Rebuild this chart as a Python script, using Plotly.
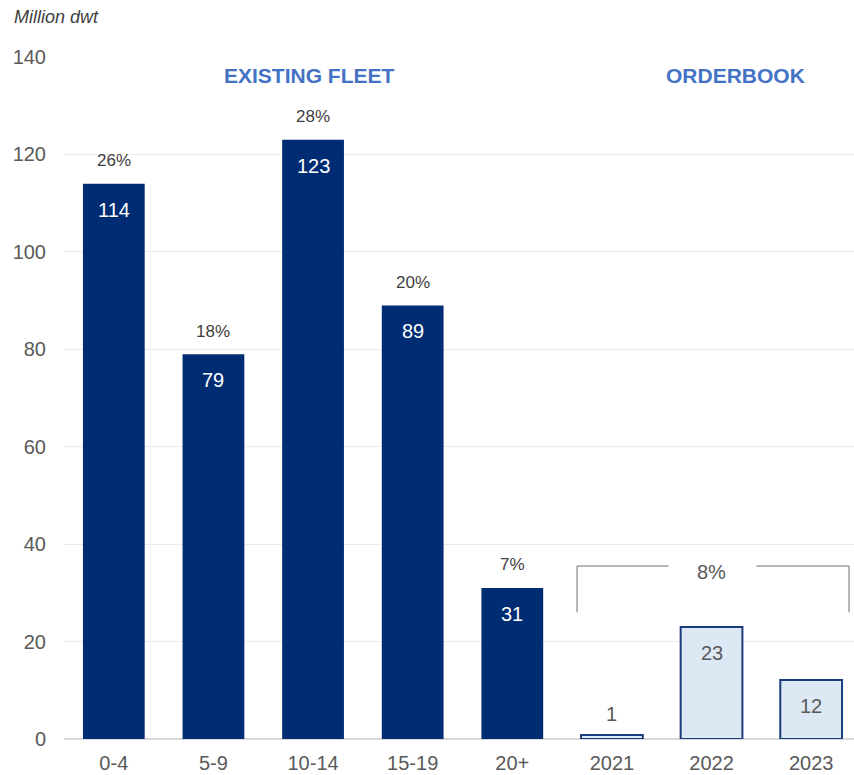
import plotly.graph_objects as go

categories = ["0-4", "5-9", "10-14", "15-19", "20+", "2021", "2022", "2023"]
fleet_values = [114, 79, 123, 89, 31]
order_values = [0.8, 23, 12.1]
value_labels = ["114", "79", "123", "89", "31", "1", "23", "12"]
pct_labels = ["26%", "18%", "28%", "20%", "7%"]
orderbook_pct = "8%"
y_ticks = [0, 20, 40, 60, 80, 100, 120, 140]

FONT = "Liberation Sans, Arial, sans-serif"
navy = "#002c73"
light = "#dde8f5"
gray_txt = "#595959"

W, H = 854, 775
ML, MT, MB, MR = 64, 57, 36, 0

fig = go.Figure()
fig.add_trace(go.Bar(x=categories[:5], y=fleet_values, marker=dict(color=navy, line=dict(width=0)),
                     width=0.62, hoverinfo="skip"))
fig.add_trace(go.Bar(x=categories[5:], y=order_values, marker=dict(color=light, line=dict(color="#1b3c7a", width=2)),
                     width=0.62, hoverinfo="skip"))

annotations = []
all_vals = fleet_values + order_values
for i, (v, lab) in enumerate(zip(all_vals, value_labels)):
    if i < 5:
        annotations.append(dict(x=i, y=v, text=lab, showarrow=False, yshift=-26,
                                font=dict(family=FONT, size=20, color="white")))
        annotations.append(dict(x=i, y=v, text=pct_labels[i], showarrow=False, yshift=23,
                                font=dict(family=FONT, size=17, color="#404040")))
    elif v < 5:
        annotations.append(dict(x=i, y=v, text=lab, showarrow=False, yshift=21,
                                font=dict(family=FONT, size=20, color="#595959")))
    else:
        annotations.append(dict(x=i, y=v, text=lab, showarrow=False, yshift=-26,
                                font=dict(family=FONT, size=20, color="#595959")))

annotations.append(dict(x=1.96, y=136.3, xref="x", yref="y", text="<b>EXISTING FLEET</b>", showarrow=False,
                        font=dict(family=FONT, size=21, color="#4472c4")))
annotations.append(dict(x=6.24, y=136.3, xref="x", yref="y", text="<b>ORDERBOOK</b>", showarrow=False,
                        font=dict(family=FONT, size=21, color="#4472c4")))
annotations.append(dict(x=6.0, y=34.3, xref="x", yref="y", text=orderbook_pct, showarrow=False,
                        font=dict(family=FONT, size=20, color="#595959")))
pw = W - ML - MR
ph = H - MT - MB
annotations.append(dict(x=(12 - ML) / pw, y=(H - MB - 17) / ph, xref="paper", yref="paper",
                        xanchor="left", yanchor="middle",
                        text="<i>Million dwt</i>", showarrow=False,
                        font=dict(family=FONT, size=18, color="#404040")))

shape_line = dict(color="#6e6e6e", width=1)
shapes = [
    dict(type="line", xref="x", yref="y", x0=4.65, x1=4.65, y0=26, y1=35.5, line=shape_line),
    dict(type="line", xref="x", yref="y", x0=4.65, x1=5.57, y0=35.5, y1=35.5, line=shape_line),
    dict(type="line", xref="x", yref="y", x0=6.45, x1=7.38, y0=35.5, y1=35.5, line=shape_line),
    dict(type="line", xref="x", yref="y", x0=7.38, x1=7.38, y0=26, y1=35.5, line=shape_line),
]

fig.update_layout(
    width=W, height=H,
    margin=dict(l=ML, r=MR, t=MT, b=MB, pad=0),
    plot_bgcolor="white", paper_bgcolor="white",
    showlegend=False,
    barmode="overlay",
    annotations=annotations,
    shapes=shapes,
    font=dict(family=FONT, color=gray_txt),
)

fig.update_xaxes(type="category", categoryorder="array", categoryarray=categories, range=[-0.5, 7.43],
                 showgrid=False, showline=False, zeroline=False,
                 tickfont=dict(family=FONT, size=20, color=gray_txt), ticks="outside", ticklen=6,
                 tickcolor="rgba(0,0,0,0)")
fig.update_yaxes(range=[0, 140], tickvals=y_ticks, showgrid=True, gridcolor="#ebebeb", gridwidth=1,
                 zeroline=True, zerolinecolor="#d9d9d9", zerolinewidth=2, showline=False,
                 ticks="outside", ticklen=13, tickcolor="rgba(0,0,0,0)",
                 tickfont=dict(family=FONT, size=20, color=gray_txt))

fig.write_html("out.html", config={"displayModeBar": False},
               post_script="document.body.style.margin='0';document.body.style.overflow='hidden';")
